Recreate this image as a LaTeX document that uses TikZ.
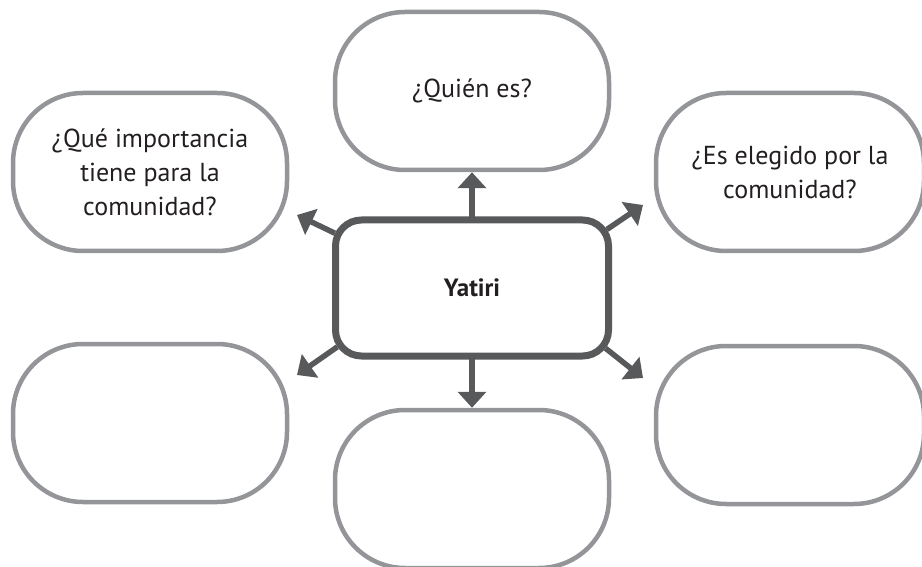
\documentclass[tikz,border=0pt]{standalone}
\usepackage{fontspec}
\setmainfont{PT Sans}
\usepackage{tikz}
\usetikzlibrary{positioning}
\usetikzlibrary{arrows.meta}
\definecolor{boxgray}{HTML}{939598}
\definecolor{hubgray}{HTML}{58595B}
\definecolor{inkgray}{HTML}{231F20}
\tikzset{
    question/.style={shape=rectangle, draw=boxgray, line width=4.5pt, rounded corners=70pt,
        minimum width=274pt, minimum height=158pt, align=center, text=inkgray,
        font=\fontsize{26}{34}\selectfont},
    hub/.style={shape=rectangle, draw=hubgray, line width=7pt, rounded corners=26pt,
        minimum width=273pt, minimum height=136pt, outer sep=0pt, text=inkgray,
        font=\fontsize{25}{30}\selectfont\bfseries},
    spoke/.style={draw=hubgray, line width=5.5pt, -{Triangle[length=16pt, width=28pt]}}
}

\begin{document}
\begin{tikzpicture}[x=1pt,y=-1pt]
    \useasboundingbox (0,0) rectangle (922,567);

    \node[hub] (Yatiri) at (472,288) {Yatiri};

    \node[question] (Quien) at (472,91) {¿Quién es?};
    \node[question] (Importancia) at (150,172) {¿Qué importancia\\tiene para la\\comunidad?};
    \node[question, minimum width=268pt] (Elegido) at (790,172) {¿Es elegido por la\\comunidad?};
    \node[question] (LeftLow) at (150,423) {};
    \node[question, minimum width=268pt] (RightLow) at (790,425) {};
    \node[question] (Bottom) at (472,489) {};

    \coordinate (ul) at (297,215);
    \coordinate (ur) at (643,205);
    \coordinate (ll) at (297,375);
    \coordinate (lr) at (643,378);

    \draw [spoke] (Yatiri.north) -- (Quien.south);
    \draw [spoke] (Yatiri.south) -- (Bottom.north);

    % diagonal spokes leave from the rounded corners
    \draw [spoke, shorten <=29.5pt] ([shift={(-26pt,-26pt)}]Yatiri.north east) -- (ur);
    \draw [spoke, shorten <=29.5pt] ([shift={(26pt,-26pt)}]Yatiri.north west) -- (ul);
    \draw [spoke, shorten <=29.5pt] ([shift={(26pt,26pt)}]Yatiri.south west) -- (ll);
    \draw [spoke, shorten <=29.5pt] ([shift={(-26pt,26pt)}]Yatiri.south east) -- (lr);
\end{tikzpicture}
\end{document}
